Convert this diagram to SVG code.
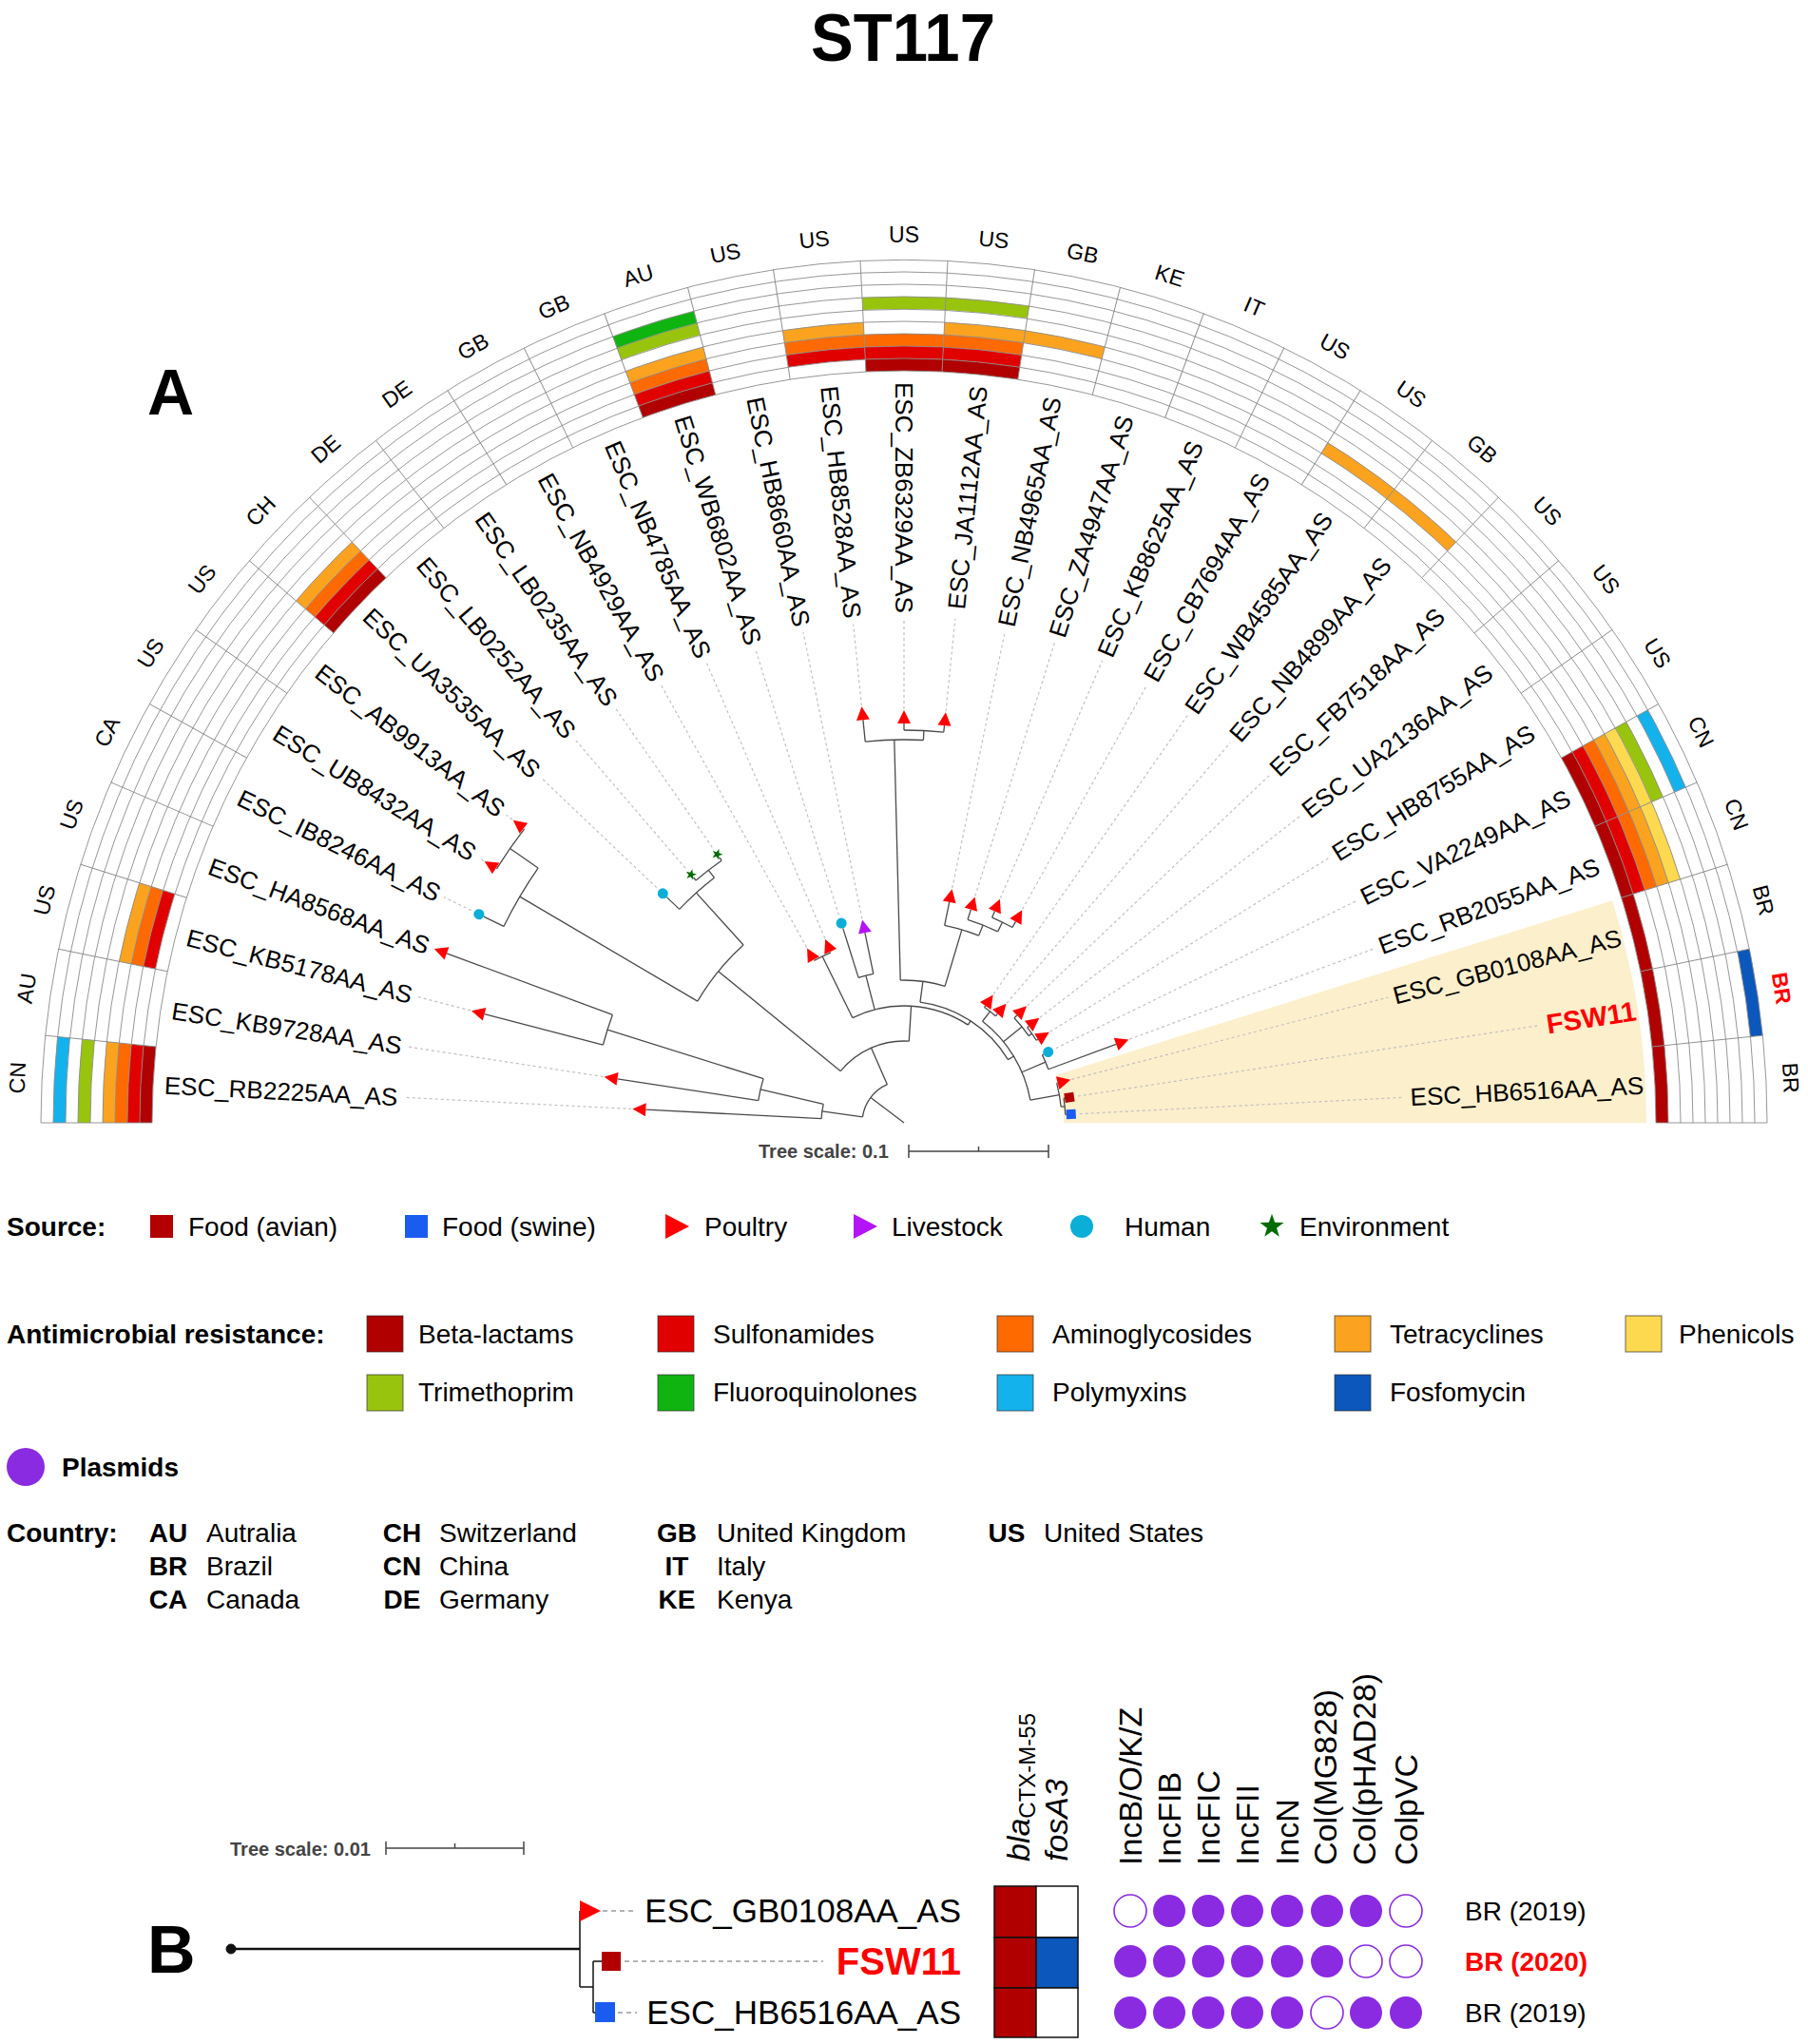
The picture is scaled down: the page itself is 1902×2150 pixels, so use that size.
<svg xmlns="http://www.w3.org/2000/svg" width="1902" height="2150" viewBox="0 0 1902 2150">
<style>
text{font-family:"Liberation Sans",Arial,sans-serif;fill:#000}
.br{fill:none;stroke:#4a4a4a;stroke-width:1.3}
.ld{fill:none;stroke:#c0c0c0;stroke-width:1.2;stroke-dasharray:3 3}
.gr{fill:none;stroke:#8a8a8a;stroke-width:0.9}
.cell{fill:none;stroke-width:13}
.k0{stroke:#b00000;stroke-dasharray:80.82 9999}
.k1{stroke:#e00000;stroke-dasharray:82.14 9999}
.k2{stroke:#ff6a00;stroke-dasharray:83.45 9999}
.k3{stroke:#fba31f;stroke-dasharray:84.77 9999}
.k4{stroke:#fdd94f;stroke-dasharray:86.09 9999}
.k5{stroke:#99c40d;stroke-dasharray:87.41 9999}
.k6{stroke:#10b410;stroke-dasharray:88.72 9999}
.k7{stroke:#13b2ec;stroke-dasharray:90.04 9999}
.k8{stroke:#0b57bb;stroke-dasharray:91.36 9999}
.lab{font-size:26px}
.cty{font-size:23px;text-anchor:middle}
.lg{font-size:28px}
.lgb{font-size:28px;font-weight:bold}
.cc{font-size:28px;font-weight:bold;text-anchor:middle}
.hd{font-size:34px}
.pf{fill:#8a2be2}
.pe{fill:#fff;stroke:#8a2be2;stroke-width:1.6}
.sw{stroke:#333;stroke-opacity:0.6;stroke-width:1.2}
.tb{fill:#fff;stroke:#111;stroke-width:1.5}
</style>
<defs>
<path id="tri" d="M-6,-7L8,0L-6,7Z" fill="#ff0000"/>
<path id="ptri" d="M-6,-7L8,0L-6,7Z" fill="#b414f5"/>
<circle id="hum" r="5.5" fill="#0aaed6"/>
<path id="star" d="M0,-6L1.41,-1.94L5.71,-1.85L2.28,0.74L3.53,4.85L0,2.4L-3.53,4.85L-2.28,0.74L-5.71,-1.85L-1.41,-1.94Z" fill="#006b00"/>
</defs>

<text x="950" y="64" font-size="70" font-weight="bold" text-anchor="middle" textLength="194" lengthAdjust="spacingAndGlyphs">ST117</text>
<text x="155" y="436" font-size="68" font-weight="bold">A</text>

<g transform="translate(951,1181)">
<circle id="highlight" r="474.5" fill="none" stroke="#fcefcc" stroke-width="613" stroke-dasharray="144.26 9999" transform="rotate(342.581)"/>

<g id="connectors" class="br">
<circle r="44" transform="rotate(187.98)" stroke-dasharray="44.84 9999"/>
<circle r="87" transform="rotate(182.903)" stroke-dasharray="15.42 9999"/>
<circle r="155" transform="rotate(188.71)" stroke-dasharray="23.56 9999"/>
<circle r="327" transform="rotate(194.516)" stroke-dasharray="33.14 9999"/>
<circle r="86" transform="rotate(219.19)" stroke-dasharray="81.58 9999"/>
<circle r="252" transform="rotate(210.48)" stroke-dasharray="76.62 9999"/>
<circle r="469" transform="rotate(206.129)" stroke-dasharray="71.30 9999"/>
<circle r="505" transform="rotate(211.935)" stroke-dasharray="51.17 9999"/>
<circle r="326" transform="rotate(223.548)" stroke-dasharray="49.56 9999"/>
<circle r="336" transform="rotate(229.355)" stroke-dasharray="34.05 9999"/>
<circle r="123" transform="rotate(243.87)" stroke-dasharray="127.37 9999"/>
<circle r="195" transform="rotate(240.968)" stroke-dasharray="19.76 9999"/>
<circle r="160" transform="rotate(252.581)" stroke-dasharray="16.21 9999"/>
<circle r="128" transform="rotate(277.62)" stroke-dasharray="114.31 9999"/>
<circle r="150" transform="rotate(268.55)" stroke-dasharray="47.49 9999"/>
<circle r="403" transform="rotate(264.194)" stroke-dasharray="61.26 9999"/>
<circle r="413" transform="rotate(270)" stroke-dasharray="41.85 9999"/>
<circle r="212" transform="rotate(281.613)" stroke-dasharray="37.63 9999"/>
<circle r="224" transform="rotate(287.419)" stroke-dasharray="34.05 9999"/>
<circle r="235" transform="rotate(293.226)" stroke-dasharray="23.81 9999"/>
<circle r="135" transform="rotate(307.74)" stroke-dasharray="99.20 9999"/>
<circle r="148" transform="rotate(304.839)" stroke-dasharray="15.00 9999"/>
<circle r="160" transform="rotate(316.452)" stroke-dasharray="24.32 9999"/>
<circle r="164" transform="rotate(322.258)" stroke-dasharray="16.62 9999"/>
<circle r="162" transform="rotate(333.871)" stroke-dasharray="16.42 9999"/>
<circle r="166" transform="rotate(345.484)" stroke-dasharray="25.24 9999"/>
<circle r="170" transform="rotate(351.29)" stroke-dasharray="17.23 9999"/>
<line x1="0" x2="44" transform="rotate(217.17)"/>
<line x1="44" x2="87" transform="rotate(187.98)"/>
<line x1="44" x2="86" transform="rotate(246.37)"/>
<line x1="87" x2="272" transform="rotate(182.903)"/>
<line x1="87" x2="155" transform="rotate(193.06)"/>
<line x1="155" x2="305" transform="rotate(188.71)"/>
<line x1="155" x2="327" transform="rotate(197.42)"/>
<line x1="327" x2="456" transform="rotate(194.516)"/>
<line x1="327" x2="513" transform="rotate(200.323)"/>
<line x1="86" x2="252" transform="rotate(219.19)"/>
<line x1="86" x2="123" transform="rotate(273.54)"/>
<line x1="252" x2="469" transform="rotate(210.48)"/>
<line x1="252" x2="326" transform="rotate(227.9)"/>
<line x1="469" x2="492.5" transform="rotate(206.129)"/>
<line x1="469" x2="505" transform="rotate(214.84)"/>
<line x1="326" x2="344.5" transform="rotate(223.548)"/>
<line x1="326" x2="336" transform="rotate(232.26)"/>
<line x1="336" x2="340" transform="rotate(229.355)"/>
<line x1="336" x2="340" transform="rotate(235.161)"/>
<line x1="123" x2="195" transform="rotate(243.87)"/>
<line x1="123" x2="160" transform="rotate(255.48)"/>
<line x1="123" x2="128" transform="rotate(303.2)"/>
<line x1="160" x2="214.5" transform="rotate(252.581)"/>
<line x1="160" x2="204" transform="rotate(258.387)"/>
<line x1="128" x2="150" transform="rotate(277.62)"/>
<line x1="128" x2="135" transform="rotate(328.79)"/>
<line x1="150" x2="403" transform="rotate(268.55)"/>
<line x1="150" x2="212" transform="rotate(286.69)"/>
<line x1="403" x2="426" transform="rotate(264.194)"/>
<line x1="403" x2="413" transform="rotate(272.9)"/>
<line x1="413" x2="420" transform="rotate(270)"/>
<line x1="413" x2="420" transform="rotate(275.806)"/>
<line x1="212" x2="237" transform="rotate(281.613)"/>
<line x1="212" x2="224" transform="rotate(291.78)"/>
<line x1="224" x2="235" transform="rotate(287.419)"/>
<line x1="224" x2="235" transform="rotate(296.13)"/>
<line x1="235" x2="242" transform="rotate(293.226)"/>
<line x1="235" x2="242" transform="rotate(299.032)"/>
<line x1="135" x2="148" transform="rotate(307.74)"/>
<line x1="148" x2="150" transform="rotate(304.839)"/>
<line x1="148" x2="151" transform="rotate(310.645)"/>
<line x1="135" x2="160" transform="rotate(320.81)"/>
<line x1="160" x2="164" transform="rotate(316.452)"/>
<line x1="160" x2="164" transform="rotate(325.16)"/>
<line x1="164" x2="166" transform="rotate(322.258)"/>
<line x1="164" x2="166" transform="rotate(328.065)"/>
<line x1="135" x2="162" transform="rotate(336.77)"/>
<line x1="162" x2="163.5" transform="rotate(333.871)"/>
<line x1="162" x2="238" transform="rotate(339.677)"/>
<line x1="135" x2="166" transform="rotate(349.84)"/>
<line x1="166" x2="167" transform="rotate(345.484)"/>
<line x1="166" x2="170" transform="rotate(354.19)"/>
<line x1="170" x2="171" transform="rotate(351.29)"/>
<line x1="170" x2="171" transform="rotate(357.097)"/>
<g class="ld">
<line x1="287" x2="527" transform="rotate(182.903)"/>
<line x1="320" x2="529" transform="rotate(188.71)"/>
<line x1="471" x2="529" transform="rotate(194.516)"/>
<line x1="507" x2="539" transform="rotate(206.129)"/>
<line x1="521" x2="527" transform="rotate(211.935)"/>
<line x1="521" x2="529" transform="rotate(217.742)"/>
<line x1="359" x2="527" transform="rotate(223.548)"/>
<line x1="353" x2="532" transform="rotate(229.355)"/>
<line x1="353" x2="532" transform="rotate(235.161)"/>
<line x1="211" x2="527" transform="rotate(240.968)"/>
<line x1="211" x2="527" transform="rotate(246.774)"/>
<line x1="229" x2="522" transform="rotate(252.581)"/>
<line x1="219" x2="527" transform="rotate(258.387)"/>
<line x1="441" x2="527" transform="rotate(264.194)"/>
<line x1="435" x2="530" transform="rotate(270)"/>
<line x1="435" x2="533" transform="rotate(275.806)"/>
<line x1="252" x2="527" transform="rotate(281.613)"/>
<line x1="250" x2="530" transform="rotate(287.419)"/>
<line x1="257" x2="529" transform="rotate(293.226)"/>
<line x1="257" x2="527" transform="rotate(299.032)"/>
<line x1="165" x2="522" transform="rotate(304.839)"/>
<line x1="166" x2="527" transform="rotate(310.645)"/>
<line x1="179" x2="530" transform="rotate(316.452)"/>
<line x1="181" x2="527" transform="rotate(322.258)"/>
<line x1="181" x2="527" transform="rotate(328.065)"/>
<line x1="178" x2="529" transform="rotate(333.871)"/>
<line x1="253" x2="527" transform="rotate(339.677)"/>
<line x1="182" x2="526" transform="rotate(345.484)"/>
<line x1="185" x2="676" transform="rotate(351.29)"/>
<line x1="185" x2="527" transform="rotate(357.097)"/>
</g>
</g>

<g id="leaf-RB2225" transform="rotate(182.903)">
<g transform="rotate(-2.903)"><circle class="cell k0" r="797.5"/><circle class="cell k1" r="810.5"/><circle class="cell k2" r="823.5"/><circle class="cell k3" r="836.5"/><circle class="cell k5" r="862.5"/><circle class="cell k7" r="888.5"/></g>
<text class="cty" transform="translate(934,0) rotate(90)" dy="0.35em">CN</text>
<text class="lab" transform="translate(779,0) rotate(180)" dy="0.35em">ESC_RB2225AA_AS</text>
<use href="#tri" x="278"/>
</g>
<g id="leaf-KB9728" transform="rotate(188.71)">
<text class="cty" transform="translate(934,0) rotate(90)" dy="0.35em">AU</text>
<text class="lab" transform="translate(779,0) rotate(180)" dy="0.35em">ESC_KB9728AA_AS</text>
<use href="#tri" x="311"/>
</g>
<g id="leaf-KB5178" transform="rotate(194.516)">
<g transform="rotate(-2.903)"><circle class="cell k1" r="810.5"/><circle class="cell k2" r="823.5"/><circle class="cell k3" r="836.5"/></g>
<text class="cty" transform="translate(934,0) rotate(90)" dy="0.35em">US</text>
<text class="lab" transform="translate(779,0) rotate(180)" dy="0.35em">ESC_KB5178AA_AS</text>
<use href="#tri" x="462"/>
</g>
<g id="leaf-HA8568" transform="rotate(200.323)">
<text class="cty" transform="translate(934,0) rotate(90)" dy="0.35em">US</text>
<text class="lab" transform="translate(779,0) rotate(180)" dy="0.35em">ESC_HA8568AA_AS</text>
<use href="#tri" x="519"/>
</g>
<g id="leaf-IB8246" transform="rotate(206.129)">
<text class="cty" transform="translate(934,0) rotate(90)" dy="0.35em">CA</text>
<text class="lab" transform="translate(779,0) rotate(180)" dy="0.35em">ESC_IB8246AA_AS</text>
<use href="#hum" x="498"/>
</g>
<g id="leaf-UB8432" transform="rotate(211.935)">
<text class="cty" transform="translate(934,0) rotate(90)" dy="0.35em">US</text>
<text class="lab" transform="translate(779,0) rotate(180)" dy="0.35em">ESC_UB8432AA_AS</text>
<use href="#tri" x="512"/>
</g>
<g id="leaf-AB9913" transform="rotate(217.742)">
<text class="cty" transform="translate(934,0) rotate(90)" dy="0.35em">US</text>
<text class="lab" transform="translate(779,0) rotate(180)" dy="0.35em">ESC_AB9913AA_AS</text>
<use href="#tri" x="512"/>
</g>
<g id="leaf-UA3535" transform="rotate(223.548)">
<g transform="rotate(-2.903)"><circle class="cell k0" r="797.5"/><circle class="cell k1" r="810.5"/><circle class="cell k2" r="823.5"/><circle class="cell k3" r="836.5"/></g>
<text class="cty" transform="translate(934,0) rotate(90)" dy="0.35em">CH</text>
<text class="lab" transform="translate(779,0) rotate(180)" dy="0.35em">ESC_UA3535AA_AS</text>
<use href="#hum" x="350"/>
</g>
<g id="leaf-LB0252" transform="rotate(229.355)">
<text class="cty" transform="translate(934,0) rotate(90)" dy="0.35em">DE</text>
<text class="lab" transform="translate(779,0) rotate(180)" dy="0.35em">ESC_LB0252AA_AS</text>
<use href="#star" x="344"/>
</g>
<g id="leaf-LB0235" transform="rotate(235.161)">
<text class="cty" transform="translate(934,0) rotate(90)" dy="0.35em">DE</text>
<text class="lab" transform="translate(779,0) rotate(180)" dy="0.35em">ESC_LB0235AA_AS</text>
<use href="#star" x="344"/>
</g>
<g id="leaf-NB4929" transform="rotate(240.968)">
<text class="cty" transform="translate(934,0) rotate(90)" dy="0.35em">GB</text>
<text class="lab" transform="translate(779,0) rotate(180)" dy="0.35em">ESC_NB4929AA_AS</text>
<use href="#tri" x="202"/>
</g>
<g id="leaf-NB4785" transform="rotate(246.774)">
<text class="cty" transform="translate(934,0) rotate(90)" dy="0.35em">GB</text>
<text class="lab" transform="translate(779,0) rotate(180)" dy="0.35em">ESC_NB4785AA_AS</text>
<use href="#tri" x="202"/>
</g>
<g id="leaf-WB6802" transform="rotate(252.581)">
<g transform="rotate(-2.903)"><circle class="cell k0" r="797.5"/><circle class="cell k1" r="810.5"/><circle class="cell k2" r="823.5"/><circle class="cell k3" r="836.5"/><circle class="cell k5" r="862.5"/><circle class="cell k6" r="875.5"/></g>
<text class="cty" transform="translate(934,0) rotate(90)" dy="0.35em">AU</text>
<text class="lab" transform="translate(779,0) rotate(180)" dy="0.35em">ESC_WB6802AA_AS</text>
<use href="#hum" x="220"/>
</g>
<g id="leaf-HB8660" transform="rotate(258.387)">
<text class="cty" transform="translate(934,0) rotate(90)" dy="0.35em">US</text>
<text class="lab" transform="translate(779,0) rotate(180)" dy="0.35em">ESC_HB8660AA_AS</text>
<use href="#ptri" x="210"/>
</g>
<g id="leaf-HB8528" transform="rotate(264.194)">
<g transform="rotate(-2.903)"><circle class="cell k1" r="810.5"/><circle class="cell k2" r="823.5"/><circle class="cell k3" r="836.5"/></g>
<text class="cty" transform="translate(934,0) rotate(90)" dy="0.35em">US</text>
<text class="lab" transform="translate(779,0) rotate(180)" dy="0.35em">ESC_HB8528AA_AS</text>
<use href="#tri" x="432"/>
</g>
<g id="leaf-ZB6329" transform="rotate(270)">
<g transform="rotate(-2.903)"><circle class="cell k0" r="797.5"/><circle class="cell k1" r="810.5"/><circle class="cell k2" r="823.5"/><circle class="cell k5" r="862.5"/></g>
<text class="cty" transform="translate(934,0) rotate(90)" dy="0.35em">US</text>
<text class="lab" transform="translate(779,0) rotate(180)" dy="0.35em">ESC_ZB6329AA_AS</text>
<use href="#tri" x="426"/>
</g>
<g id="leaf-JA1112" transform="rotate(275.806)">
<g transform="rotate(-2.903)"><circle class="cell k0" r="797.5"/><circle class="cell k1" r="810.5"/><circle class="cell k2" r="823.5"/><circle class="cell k3" r="836.5"/><circle class="cell k5" r="862.5"/></g>
<text class="cty" transform="translate(934,0) rotate(90)" dy="0.35em">US</text>
<text class="lab" x="779" dy="0.35em" text-anchor="end">ESC_JA1112AA_AS</text>
<use href="#tri" x="426"/>
</g>
<g id="leaf-NB4965" transform="rotate(281.613)">
<g transform="rotate(-2.903)"><circle class="cell k3" r="836.5"/></g>
<text class="cty" transform="translate(934,0) rotate(90)" dy="0.35em">GB</text>
<text class="lab" x="779" dy="0.35em" text-anchor="end">ESC_NB4965AA_AS</text>
<use href="#tri" x="243"/>
</g>
<g id="leaf-ZA4947" transform="rotate(287.419)">
<text class="cty" transform="translate(934,0) rotate(90)" dy="0.35em">KE</text>
<text class="lab" x="779" dy="0.35em" text-anchor="end">ESC_ZA4947AA_AS</text>
<use href="#tri" x="241"/>
</g>
<g id="leaf-KB8625" transform="rotate(293.226)">
<text class="cty" transform="translate(934,0) rotate(90)" dy="0.35em">IT</text>
<text class="lab" x="779" dy="0.35em" text-anchor="end">ESC_KB8625AA_AS</text>
<use href="#tri" x="248"/>
</g>
<g id="leaf-CB7694" transform="rotate(299.032)">
<text class="cty" transform="translate(934,0) rotate(90)" dy="0.35em">US</text>
<text class="lab" x="779" dy="0.35em" text-anchor="end">ESC_CB7694AA_AS</text>
<use href="#tri" x="248"/>
</g>
<g id="leaf-WB4585" transform="rotate(304.839)">
<g transform="rotate(-2.903)"><circle class="cell k3" r="836.5"/></g>
<text class="cty" transform="translate(934,0) rotate(90)" dy="0.35em">US</text>
<text class="lab" x="779" dy="0.35em" text-anchor="end">ESC_WB4585AA_AS</text>
<use href="#tri" x="156"/>
</g>
<g id="leaf-NB4899" transform="rotate(310.645)">
<g transform="rotate(-2.903)"><circle class="cell k3" r="836.5"/></g>
<text class="cty" transform="translate(934,0) rotate(90)" dy="0.35em">GB</text>
<text class="lab" x="779" dy="0.35em" text-anchor="end">ESC_NB4899AA_AS</text>
<use href="#tri" x="157"/>
</g>
<g id="leaf-FB7518" transform="rotate(316.452)">
<text class="cty" transform="translate(934,0) rotate(90)" dy="0.35em">US</text>
<text class="lab" x="779" dy="0.35em" text-anchor="end">ESC_FB7518AA_AS</text>
<use href="#tri" x="170"/>
</g>
<g id="leaf-UA2136" transform="rotate(322.258)">
<text class="cty" transform="translate(934,0) rotate(90)" dy="0.35em">US</text>
<text class="lab" x="779" dy="0.35em" text-anchor="end">ESC_UA2136AA_AS</text>
<use href="#tri" x="172"/>
</g>
<g id="leaf-HB8755" transform="rotate(328.065)">
<text class="cty" transform="translate(934,0) rotate(90)" dy="0.35em">US</text>
<text class="lab" x="779" dy="0.35em" text-anchor="end">ESC_HB8755AA_AS</text>
<use href="#tri" x="172"/>
</g>
<g id="leaf-VA2249" transform="rotate(333.871)">
<g transform="rotate(-2.903)"><circle class="cell k0" r="797.5"/><circle class="cell k1" r="810.5"/><circle class="cell k2" r="823.5"/><circle class="cell k3" r="836.5"/><circle class="cell k4" r="849.5"/><circle class="cell k5" r="862.5"/><circle class="cell k7" r="888.5"/></g>
<text class="cty" transform="translate(934,0) rotate(90)" dy="0.35em">CN</text>
<text class="lab" x="779" dy="0.35em" text-anchor="end">ESC_VA2249AA_AS</text>
<use href="#hum" x="169"/>
</g>
<g id="leaf-RB2055" transform="rotate(339.677)">
<g transform="rotate(-2.903)"><circle class="cell k0" r="797.5"/><circle class="cell k1" r="810.5"/><circle class="cell k2" r="823.5"/><circle class="cell k3" r="836.5"/><circle class="cell k4" r="849.5"/></g>
<text class="cty" transform="translate(934,0) rotate(90)" dy="0.35em">CN</text>
<text class="lab" x="779" dy="0.35em" text-anchor="end">ESC_RB2055AA_AS</text>
<use href="#tri" x="244"/>
</g>
<g id="leaf-GB0108" transform="rotate(345.484)">
<g transform="rotate(-2.903)"><circle class="cell k0" r="797.5"/></g>
<text class="cty" transform="translate(934,0) rotate(90)" dy="0.35em">BR</text>
<text class="lab" x="779" dy="0.35em" text-anchor="end">ESC_GB0108AA_AS</text>
<use href="#tri" x="173"/>
</g>
<g id="leaf-FSW11" transform="rotate(351.29)">
<g transform="rotate(-2.903)"><circle class="cell k0" r="797.5"/><circle class="cell k8" r="901.5"/></g>
<text class="cty" transform="translate(934,0) rotate(90)" dy="0.35em" style="fill:#ff0000;font-weight:bold">BR</text>
<text x="779" dy="0.35em" text-anchor="end" font-size="29" font-weight="bold" style="fill:#ff0000">FSW11</text>
<rect x="171" y="-5" width="10" height="10" fill="#b20000"/>
</g>
<g id="leaf-HB6516" transform="rotate(357.097)">
<g transform="rotate(-2.903)"><circle class="cell k0" r="797.5"/></g>
<text class="cty" transform="translate(934,0) rotate(90)" dy="0.35em">BR</text>
<text class="lab" x="779" dy="0.35em" text-anchor="end">ESC_HB6516AA_AS</text>
<rect x="171" y="-5" width="10" height="10" fill="#1a5cf0"/>
</g>

<g id="ring-grid" class="gr">
<path d="M-791,0A791,791 0 0 1 791,0M-804,0A804,804 0 0 1 804,0M-817,0A817,817 0 0 1 817,0M-830,0A830,830 0 0 1 830,0M-843,0A843,843 0 0 1 843,0M-856,0A856,856 0 0 1 856,0M-869,0A869,869 0 0 1 869,0M-882,0A882,882 0 0 1 882,0M-895,0A895,895 0 0 1 895,0M-908,0A908,908 0 0 1 908,0"/>
<line x1="791" x2="908" transform="rotate(180)"/>
<line x1="791" x2="908" transform="rotate(185.806)"/>
<line x1="791" x2="908" transform="rotate(191.613)"/>
<line x1="791" x2="908" transform="rotate(197.419)"/>
<line x1="791" x2="908" transform="rotate(203.226)"/>
<line x1="791" x2="908" transform="rotate(209.032)"/>
<line x1="791" x2="908" transform="rotate(214.839)"/>
<line x1="791" x2="908" transform="rotate(220.645)"/>
<line x1="791" x2="908" transform="rotate(226.452)"/>
<line x1="791" x2="908" transform="rotate(232.258)"/>
<line x1="791" x2="908" transform="rotate(238.065)"/>
<line x1="791" x2="908" transform="rotate(243.871)"/>
<line x1="791" x2="908" transform="rotate(249.677)"/>
<line x1="791" x2="908" transform="rotate(255.484)"/>
<line x1="791" x2="908" transform="rotate(261.29)"/>
<line x1="791" x2="908" transform="rotate(267.097)"/>
<line x1="791" x2="908" transform="rotate(272.903)"/>
<line x1="791" x2="908" transform="rotate(278.71)"/>
<line x1="791" x2="908" transform="rotate(284.516)"/>
<line x1="791" x2="908" transform="rotate(290.323)"/>
<line x1="791" x2="908" transform="rotate(296.129)"/>
<line x1="791" x2="908" transform="rotate(301.935)"/>
<line x1="791" x2="908" transform="rotate(307.742)"/>
<line x1="791" x2="908" transform="rotate(313.548)"/>
<line x1="791" x2="908" transform="rotate(319.355)"/>
<line x1="791" x2="908" transform="rotate(325.161)"/>
<line x1="791" x2="908" transform="rotate(330.968)"/>
<line x1="791" x2="908" transform="rotate(336.774)"/>
<line x1="791" x2="908" transform="rotate(342.581)"/>
<line x1="791" x2="908" transform="rotate(348.387)"/>
<line x1="791" x2="908" transform="rotate(354.194)"/>
<line x1="791" x2="908" transform="rotate(360)"/>
</g>
</g>

<g id="scale-A">
<text x="798" y="1218" font-size="20" font-weight="bold" style="fill:#444">Tree scale: 0.1</text>
<path d="M956,1211H1103M956,1204V1218M1103,1204V1218M1029.5,1206V1211" stroke="#444" stroke-width="1.5" fill="none"/>
</g>

<g id="legend-source">
<text class="lgb" x="7" y="1300">Source:</text>
<rect x="158" y="1278" width="24" height="24" fill="#b20000"/>
<text class="lg" x="198" y="1300">Food (avian)</text>
<rect x="426" y="1278" width="24" height="24" fill="#1a5cf0"/>
<text class="lg" x="465" y="1300">Food (swine)</text>
<path d="M700,1277L725,1290L700,1303Z" fill="#ff0000"/>
<text class="lg" x="741" y="1300">Poultry</text>
<path d="M898,1277L923,1290L898,1303Z" fill="#b414f5"/>
<text class="lg" x="938" y="1300">Livestock</text>
<circle cx="1138" cy="1290" r="12" fill="#0aaed6"/>
<text class="lg" x="1183" y="1300">Human</text>
<use href="#star" transform="translate(1338,1290) scale(2.2)"/>
<text class="lg" x="1367" y="1300">Environment</text>
</g>

<g id="legend-amr">
<text class="lgb" x="7" y="1413">Antimicrobial resistance:</text>
<rect class="sw" x="386" y="1384" width="38" height="38" fill="#b00000"/>
<text class="lg" x="440" y="1413">Beta-lactams</text>
<rect class="sw" x="692" y="1384" width="38" height="38" fill="#e00000"/>
<text class="lg" x="750" y="1413">Sulfonamides</text>
<rect class="sw" x="1049" y="1384" width="38" height="38" fill="#ff6a00"/>
<text class="lg" x="1107" y="1413">Aminoglycosides</text>
<rect class="sw" x="1404" y="1384" width="38" height="38" fill="#fba31f"/>
<text class="lg" x="1462" y="1413">Tetracyclines</text>
<rect class="sw" x="1710" y="1384" width="38" height="38" fill="#fdd94f"/>
<text class="lg" x="1766" y="1413">Phenicols</text>
<rect class="sw" x="386" y="1446" width="38" height="38" fill="#99c40d"/>
<text class="lg" x="440" y="1474">Trimethoprim</text>
<rect class="sw" x="692" y="1446" width="38" height="38" fill="#10b410"/>
<text class="lg" x="750" y="1474">Fluoroquinolones</text>
<rect class="sw" x="1049" y="1446" width="38" height="38" fill="#13b2ec"/>
<text class="lg" x="1107" y="1474">Polymyxins</text>
<rect class="sw" x="1404" y="1446" width="38" height="38" fill="#0b57bb"/>
<text class="lg" x="1462" y="1474">Fosfomycin</text>
</g>

<g id="legend-plasmids">
<circle cx="27" cy="1543" r="20" fill="#8a2be2"/>
<text class="lgb" x="65" y="1553">Plasmids</text>
</g>

<g id="legend-country">
<text class="lgb" x="7" y="1622">Country:</text>
<text class="cc" x="177" y="1622">AU</text><text class="lg" x="217" y="1622">Autralia</text>
<text class="cc" x="177" y="1657">BR</text><text class="lg" x="217" y="1657">Brazil</text>
<text class="cc" x="177" y="1692">CA</text><text class="lg" x="217" y="1692">Canada</text>
<text class="cc" x="423" y="1622">CH</text><text class="lg" x="462" y="1622">Switzerland</text>
<text class="cc" x="423" y="1657">CN</text><text class="lg" x="462" y="1657">China</text>
<text class="cc" x="423" y="1692">DE</text><text class="lg" x="462" y="1692">Germany</text>
<text class="cc" x="712" y="1622">GB</text><text class="lg" x="754" y="1622">United Kingdom</text>
<text class="cc" x="712" y="1657">IT</text><text class="lg" x="754" y="1657">Italy</text>
<text class="cc" x="712" y="1692">KE</text><text class="lg" x="754" y="1692">Kenya</text>
<text class="cc" x="1059" y="1622">US</text><text class="lg" x="1098" y="1622">United States</text>
</g>

<g id="panel-B">
<text x="155" y="2075" font-size="70" font-weight="bold">B</text>
<g id="scale-B">
<text x="242" y="1952" font-size="20" font-weight="bold" style="fill:#444">Tree scale: 0.01</text>
<path d="M406,1944H551M406,1937V1951M551,1937V1951M478.5,1939V1944" stroke="#444" stroke-width="1.5" fill="none"/>
</g>
<g id="tree-B" fill="none" stroke="#111">
<circle cx="243" cy="2050" r="5" fill="#111"/>
<path d="M243,2050H610" stroke-width="2.5"/>
<path d="M610,2010V2090M610,2090H624M624,2063V2117M624,2063H633M624,2117H626" stroke-width="1.5"/>
<path d="M634,2010H670M657,2063H866M650,2117H670" stroke="#999" stroke-width="1.5" stroke-dasharray="5 4"/>
</g>
<path id="B-tri" d="M610,1999L632,2010L610,2021Z" fill="#ff0000"/>
<rect id="B-sq1" x="633" y="2053" width="20" height="20" fill="#b20000"/>
<rect id="B-sq2" x="626" y="2106" width="21" height="21" fill="#1a5cf0"/>
<text x="1011" y="2022" font-size="35" text-anchor="end">ESC_GB0108AA_AS</text>
<text x="1011" y="2077" font-size="40" font-weight="bold" text-anchor="end" style="fill:#ff0000">FSW11</text>
<text x="1011" y="2129" font-size="35" text-anchor="end">ESC_HB6516AA_AS</text>

<g id="B-headers" class="hd">
<text transform="translate(1083,1958) rotate(-90)"><tspan font-style="italic">bla</tspan><tspan font-size="24" dy="6">CTX-M-55</tspan></text>
<text transform="translate(1123,1958) rotate(-90)" font-style="italic">fosA3</text>
<text transform="translate(1201,1962) rotate(-90)">IncB/O/K/Z</text>
<text transform="translate(1242,1962) rotate(-90)">IncFIB</text>
<text transform="translate(1283,1962) rotate(-90)">IncFIC</text>
<text transform="translate(1324,1962) rotate(-90)">IncFII</text>
<text transform="translate(1366,1962) rotate(-90)">IncN</text>
<text transform="translate(1406,1962) rotate(-90)">Col(MG828)</text>
<text transform="translate(1447,1962) rotate(-90)">Col(pHAD28)</text>
<text transform="translate(1491,1962) rotate(-90)">ColpVC</text>
</g>
<g id="B-genes" class="tb">
<rect x="1046" y="1984" width="44" height="54" style="fill:#b00000"/>
<rect x="1090" y="1984" width="44" height="54"/>
<rect x="1046" y="2038" width="44" height="53" style="fill:#b00000"/>
<rect x="1090" y="2038" width="44" height="53" style="fill:#0b57bb"/>
<rect x="1046" y="2091" width="44" height="52" style="fill:#b00000"/>
<rect x="1090" y="2091" width="44" height="52"/>
</g>
<g id="B-plasmids">
<circle class="pe" cx="1189" cy="2010" r="17"/><circle class="pf" cx="1230" cy="2010" r="17"/><circle class="pf" cx="1271" cy="2010" r="17"/><circle class="pf" cx="1312" cy="2010" r="17"/><circle class="pf" cx="1354" cy="2010" r="17"/><circle class="pf" cx="1396" cy="2010" r="17"/><circle class="pf" cx="1437" cy="2010" r="17"/><circle class="pe" cx="1479" cy="2010" r="17"/>
<circle class="pf" cx="1189" cy="2063" r="17"/><circle class="pf" cx="1230" cy="2063" r="17"/><circle class="pf" cx="1271" cy="2063" r="17"/><circle class="pf" cx="1312" cy="2063" r="17"/><circle class="pf" cx="1354" cy="2063" r="17"/><circle class="pf" cx="1396" cy="2063" r="17"/><circle class="pe" cx="1437" cy="2063" r="17"/><circle class="pe" cx="1479" cy="2063" r="17"/>
<circle class="pf" cx="1189" cy="2117" r="17"/><circle class="pf" cx="1230" cy="2117" r="17"/><circle class="pf" cx="1271" cy="2117" r="17"/><circle class="pf" cx="1312" cy="2117" r="17"/><circle class="pf" cx="1354" cy="2117" r="17"/><circle class="pe" cx="1396" cy="2117" r="17"/><circle class="pf" cx="1437" cy="2117" r="17"/><circle class="pf" cx="1479" cy="2117" r="17"/>
</g>
<text x="1541" y="2020" font-size="28">BR (2019)</text>
<text x="1541" y="2073" font-size="28" font-weight="bold" style="fill:#ff0000">BR (2020)</text>
<text x="1541" y="2127" font-size="28">BR (2019)</text>
</g>
</svg>
